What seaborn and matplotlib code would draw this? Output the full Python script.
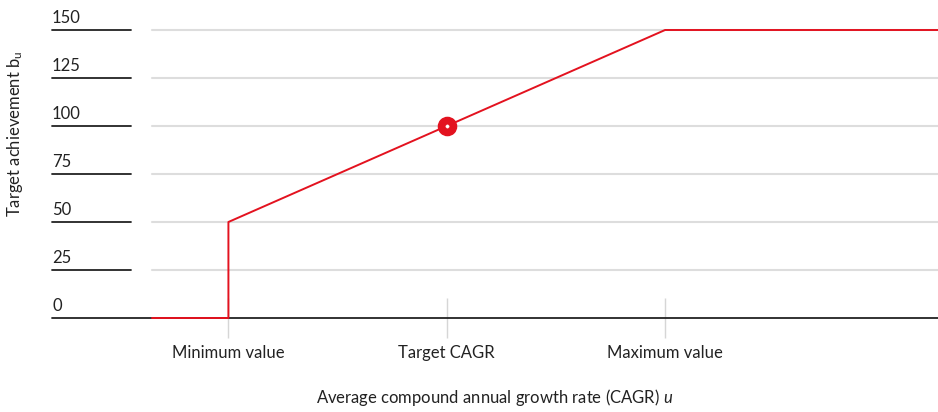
import matplotlib
matplotlib.use("Agg")
import matplotlib.pyplot as plt
import matplotlib.transforms as mtransforms
import seaborn as sns
import pandas as pd

# Datos del gráfico
cagr_pos = [0.65, 1, 1, 2, 3, 4.25]
logro = [0, 0, 50, 100, 150, 150]
target_x = [2]
target_y = [100]
ticks_x = [1, 2, 3]
ticks_lbl = ["Minimum value", "Target CAGR", "Maximum value"]
niveles_y = [0, 25, 50, 75, 100, 125, 150]

rojo = "#e3121f"
texto = "#222222"

sns.set_style("white")
plt.rcParams["font.family"] = ["Lato", "DejaVu Sans"]
plt.rcParams["mathtext.fontset"] = "custom"
plt.rcParams["mathtext.it"] = "Lato:italic"
plt.rcParams["mathtext.rm"] = "Lato"

fig = plt.figure(figsize=(9.38, 4.12), dpi=100)
W, H = 938, 412
ax = fig.add_axes([152 / W, (H - 318) / H, (938 - 152) / W, (318 - 30) / H])
ax.set_xlim(0.65, 4.25)
ax.set_ylim(0, 150)

# lineas de referencia
trans = mtransforms.blended_transform_factory(ax.transAxes, ax.transData)
x_izq = (52 - 152) / 786
x_fin = (131 - 152) / 786
for nivel in niveles_y:
    if nivel == 0:
        ax.plot([x_izq, 1], [0, 0], color=texto, lw=1.3, transform=trans,
                clip_on=False, zorder=2)
    else:
        ax.plot([0, 1], [nivel, nivel], color="#dddddd", lw=1.5,
                transform=trans, clip_on=False, zorder=1)
        ax.plot([x_izq, x_fin], [nivel, nivel], color=texto, lw=1.3,
                transform=trans, clip_on=False, zorder=2)
    ax.text(x_izq, nivel + 6.5, str(nivel), transform=trans, ha="left",
            va="center", fontsize=12, color=texto)

df = pd.DataFrame({"u": cagr_pos, "b": logro})
sns.lineplot(data=df, x="u", y="b", sort=False, estimator=None, color=rojo,
             lw=1.4, ax=ax, zorder=3, clip_on=False)
sns.scatterplot(x=target_x, y=target_y, s=170, color=rojo, edgecolor=rojo,
                ax=ax, zorder=4, clip_on=False)
sns.scatterplot(x=target_x, y=target_y, s=6, color="white", edgecolor="white",
                ax=ax, zorder=5)

ax.set_xticks(ticks_x)
ax.set_xticklabels(ticks_lbl, fontsize=12, color=texto)
ax.tick_params(axis="x", direction="inout", length=28.8, width=1,
               color="#d6d6d6", pad=5, bottom=True)
ax.set_yticks([])
ax.set_xlabel("")
ax.set_ylabel("")
sns.despine(ax=ax, left=True, bottom=True)

fig.text(495 / W, 1 - 398 / H, "Average compound annual growth rate (CAGR) $u$",
         ha="center", va="center", fontsize=12, color=texto)
fig.text(15 / W, 1 - 134 / H, r"Target achievement b$_\mathregular{u}$",
         rotation=90, ha="center", va="center", fontsize=12, color=texto)

fig.savefig("out.png", dpi=100)
